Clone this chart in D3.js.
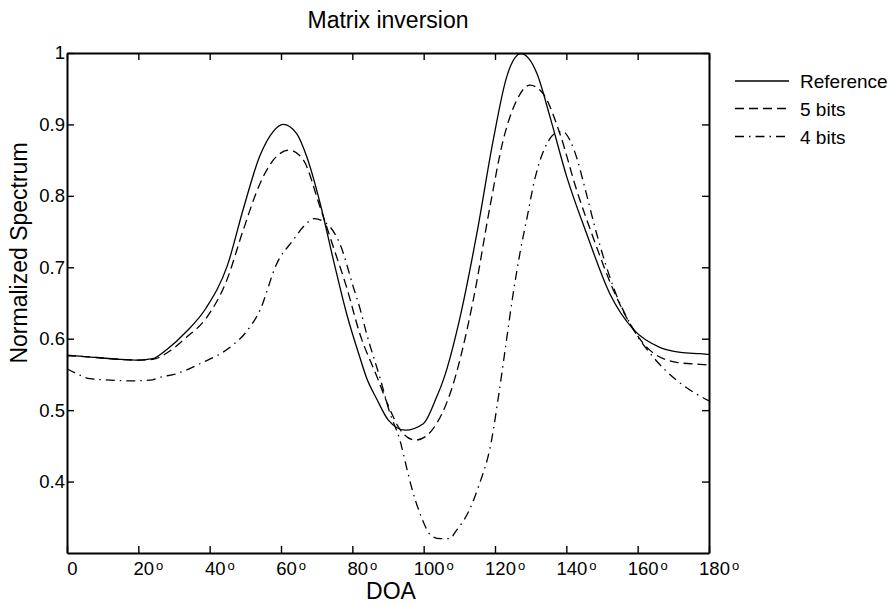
<!DOCTYPE html>
<html>
<head>
<meta charset="utf-8">
<script src="https://cdn.jsdelivr.net/npm/d3@7/dist/d3.min.js"></script>
<style>
  html, body { margin: 0; padding: 0; background: #fff; }
  svg { display: block; font-family: "Liberation Sans", Arial, sans-serif; }
</style>
</head>
<body>
<svg id="chart" width="893" height="605"></svg>
<script>
// Normalized spatial spectrum versus direction of arrival (degrees)
const refDoa = [0, 5, 10, 15, 20, 24, 28, 33.5, 39, 45, 49.5, 54, 57.8, 60.6, 64.4, 67.2, 71, 74.7, 78.4, 82.1, 84, 86.8, 90.1, 94.8, 99.9, 103.6, 105.5, 110.2, 114.9, 119.5, 123.3, 127.3, 131.7, 135.4, 140.1, 145.7, 152.2, 158.8, 166.2, 172, 177.5, 180];
const refValues = [0.577, 0.575, 0.573, 0.571, 0.570, 0.572, 0.585, 0.610, 0.643, 0.703, 0.783, 0.855, 0.890, 0.900, 0.887, 0.855, 0.789, 0.710, 0.635, 0.574, 0.545, 0.516, 0.486, 0.472, 0.481, 0.518, 0.542, 0.630, 0.747, 0.878, 0.967, 0.999, 0.972, 0.911, 0.827, 0.747, 0.663, 0.613, 0.588, 0.581, 0.579, 0.578];

const bits5Doa = [0, 5, 10, 15, 20, 24, 28, 33.5, 39.2, 44.8, 49.4, 54.1, 58.7, 62.4, 66.3, 70.9, 74.7, 78.4, 82.1, 86.8, 90.1, 93.5, 97.6, 100.5, 103.6, 107.4, 113.9, 118.6, 122.3, 126.1, 129.8, 133.5, 138.2, 142.9, 147.5, 153.2, 158.8, 163.4, 170.9, 177.5, 180];
const bits5Values = [0.576, 0.575, 0.573, 0.571, 0.570, 0.571, 0.580, 0.602, 0.630, 0.682, 0.752, 0.817, 0.855, 0.864, 0.850, 0.785, 0.728, 0.672, 0.607, 0.548, 0.506, 0.472, 0.458, 0.463, 0.481, 0.523, 0.654, 0.785, 0.878, 0.934, 0.955, 0.943, 0.887, 0.808, 0.742, 0.668, 0.613, 0.584, 0.567, 0.564, 0.563];

const bits4Doa = [0, 3.6, 6.4, 12, 17.7, 23.3, 26.1, 30.7, 37.3, 45.7, 50, 54.1, 58.8, 63.4, 66.5, 69.3, 72.8, 76.5, 80.3, 82.1, 84, 87.7, 90.6, 93.4, 95.2, 96.6, 99, 102.2, 104.6, 107.4, 108.8, 112.5, 115.3, 119, 121, 123, 125, 127, 129, 131, 133, 135, 137, 139, 141, 143, 145, 148.5, 153.2, 158.8, 164.4, 170.9, 176, 180];
const bits4Values = [0.558, 0.549, 0.544, 0.542, 0.541, 0.542, 0.546, 0.551, 0.565, 0.588, 0.608, 0.640, 0.705, 0.738, 0.758, 0.768, 0.761, 0.733, 0.672, 0.643, 0.607, 0.546, 0.495, 0.457, 0.420, 0.392, 0.355, 0.324, 0.320, 0.320, 0.329, 0.357, 0.392, 0.457, 0.520, 0.590, 0.660, 0.720, 0.770, 0.820, 0.855, 0.877, 0.888, 0.890, 0.878, 0.852, 0.815, 0.747, 0.672, 0.613, 0.574, 0.542, 0.524, 0.513];

const seriesNames = ["Reference", "5 bits", "4 bits"];
const xTicks = [0, 20, 40, 60, 80, 100, 120, 140, 160, 180];
const yTicks = [0.4, 0.5, 0.6, 0.7, 0.8, 0.9, 1];

const titleText = "Matrix inversion";
const xLabel = "DOA";
const yLabel = "Normalized Spectrum";

const dashes = ["none", "9,5", "9,5,1.5,5"];

const series = [
  { name: seriesNames[0], pts: refDoa.map((d, i) => [d, refValues[i]]), dash: dashes[0] },
  { name: seriesNames[1], pts: bits5Doa.map((d, i) => [d, bits5Values[i]]), dash: dashes[1] },
  { name: seriesNames[2], pts: bits4Doa.map((d, i) => [d, bits4Values[i]]), dash: dashes[2] }
];

const svg = d3.select("#chart");
const plot = { left: 67, right: 709, top: 53, bottom: 553 };

const x = d3.scaleLinear().domain([0, 180]).range([plot.left, plot.right]);
const y = d3.scaleLinear().domain([0.3, 1]).range([plot.bottom, plot.top]);

// Curves
const line = d3.line().x(d => x(d[0])).y(d => y(d[1])).curve(d3.curveMonotoneX);
svg.append("g").selectAll("path")
  .data(series)
  .join("path")
  .attr("d", d => line(d.pts))
  .attr("fill", "none")
  .attr("stroke", "#000")
  .attr("stroke-width", 1.3)
  .attr("stroke-dasharray", d => d.dash);

// Axes: ticks point inward on all four sides
const tickLen = 7;
const tickFont = "18.5px";
function styleAxis(g) {
  g.select(".domain").attr("stroke", "#000").attr("stroke-width", 2);
  g.selectAll(".tick line").attr("stroke", "#000").attr("stroke-width", 1.4);
  g.selectAll(".tick text").attr("fill", "#000").style("font-size", tickFont)
    .style("font-family", "'Liberation Sans', Arial, sans-serif");
}

const gBottom = svg.append("g")
  .attr("transform", `translate(0,${plot.bottom})`)
  .call(d3.axisBottom(x).tickValues(xTicks).tickSizeInner(-tickLen).tickSizeOuter(0).tickPadding(9)
    .tickFormat(d => String(d)))
  .call(styleAxis);

// number centred slightly right of its tick, followed by a raised degree mark
gBottom.selectAll(".tick text").each(function(d) {
  const t = d3.select(this);
  t.attr("text-anchor", "start");
  const w = this.getComputedTextLength();
  t.attr("x", 5 - w / 2);
  if (d !== 0) {
    t.append("tspan").text("o").attr("dx", 2).attr("dy", "-0.36em").style("font-size", "13px");
  }
});

svg.append("g")
  .attr("transform", `translate(0,${plot.top})`)
  .call(d3.axisTop(x).tickValues(xTicks).tickSizeInner(-tickLen).tickSizeOuter(0).tickFormat(""))
  .call(styleAxis);

svg.append("g")
  .attr("transform", `translate(${plot.left},0)`)
  .call(d3.axisLeft(y).tickValues(yTicks).tickSizeInner(-tickLen).tickSizeOuter(0).tickPadding(2)
    .tickFormat(d => d === 1 ? "1" : d3.format(".1f")(d)))
  .call(styleAxis);

svg.append("g")
  .attr("transform", `translate(${plot.right},0)`)
  .call(d3.axisRight(y).tickValues(yTicks).tickSizeInner(-tickLen).tickSizeOuter(0).tickFormat(""))
  .call(styleAxis);

// Titles
svg.append("text")
  .attr("x", (plot.left + plot.right) / 2).attr("y", 28)
  .attr("text-anchor", "middle").style("font-size", "23px").text(titleText);

svg.append("text")
  .attr("x", 391).attr("y", 599)
  .attr("text-anchor", "middle").style("font-size", "23px").text(xLabel);

svg.append("text")
  .attr("transform", "translate(27,253) rotate(-90)")
  .attr("text-anchor", "middle").style("font-size", "23px").text(yLabel);

// Legend
const legendY = [81, 108.5, 136.5];
const legend = svg.append("g").selectAll("g")
  .data(series)
  .join("g")
  .attr("transform", (d, i) => `translate(0,${legendY[i]})`);
legend.append("line")
  .attr("x1", 735).attr("x2", 789).attr("y1", 0).attr("y2", 0)
  .attr("stroke", "#000").attr("stroke-width", 1.3)
  .attr("stroke-dasharray", d => d.dash);
legend.append("text")
  .attr("x", 800).attr("y", 7)
  .style("font-size", "19px")
  .text(d => d.name);
</script>
</body>
</html>
